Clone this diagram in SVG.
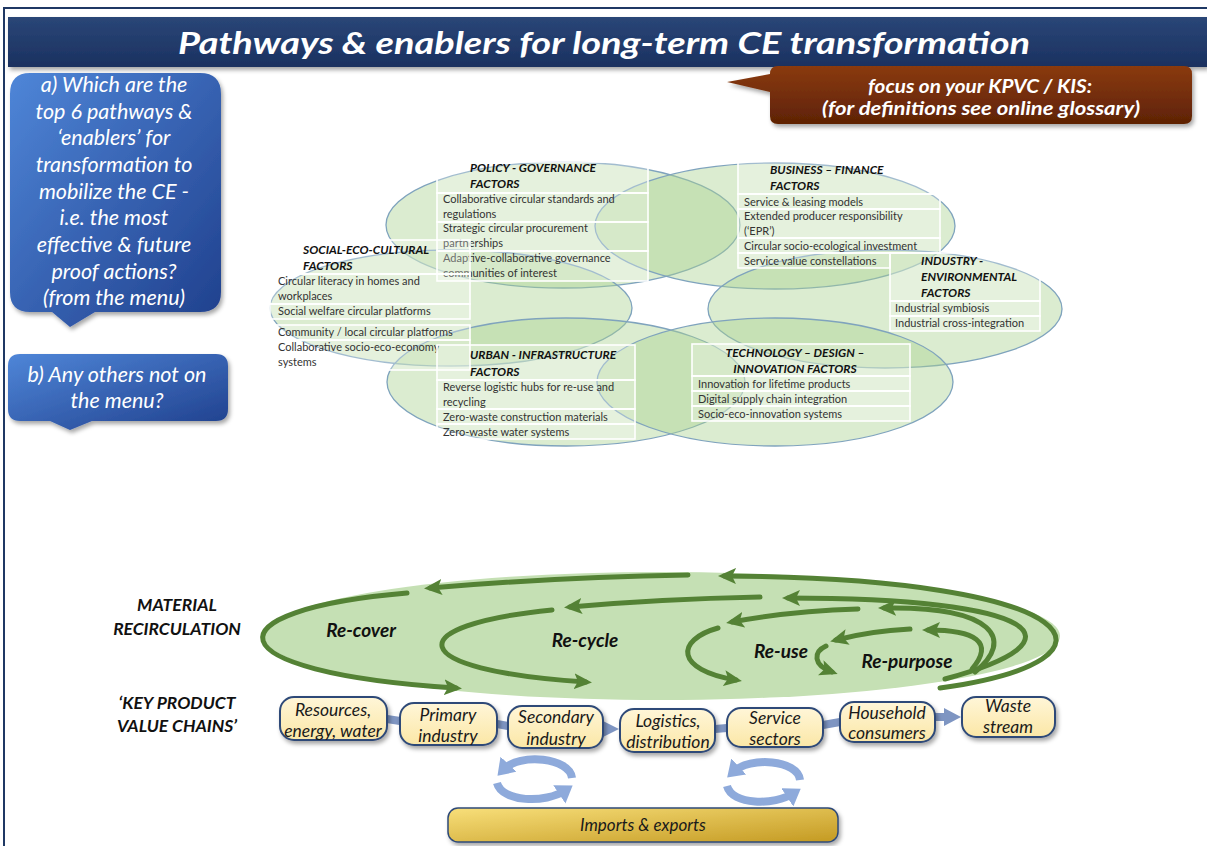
<svg xmlns="http://www.w3.org/2000/svg" width="1207" height="846" viewBox="0 0 1207 846">
<defs>
  <linearGradient id="gTitle" x1="0" y1="0" x2="0" y2="1">
    <stop offset="0" stop-color="#2a4677"/>
    <stop offset="1" stop-color="#1b3160"/>
  </linearGradient>
  <linearGradient id="gBrown" x1="0" y1="0" x2="0" y2="1">
    <stop offset="0" stop-color="#8a3a10"/>
    <stop offset="1" stop-color="#5e2205"/>
  </linearGradient>
  <linearGradient id="gBlue" x1="0" y1="0" x2="1" y2="1">
    <stop offset="0" stop-color="#4f86d8"/>
    <stop offset="1" stop-color="#1f3f8c"/>
  </linearGradient>
  <linearGradient id="gBox" x1="0" y1="0" x2="0" y2="1">
    <stop offset="0" stop-color="#fff6d8"/>
    <stop offset="1" stop-color="#fbe7a6"/>
  </linearGradient>
  <linearGradient id="gGold" x1="0" y1="0" x2="1" y2="1">
    <stop offset="0" stop-color="#f8df7a"/>
    <stop offset="1" stop-color="#c49a22"/>
  </linearGradient>
  <filter id="sh" x="-10%" y="-10%" width="120%" height="130%">
    <feDropShadow dx="2" dy="3" stdDeviation="2" flood-color="#000" flood-opacity="0.35"/>
  </filter>
  <marker id="ag" markerUnits="userSpaceOnUse" markerWidth="20" markerHeight="16" refX="12" refY="8" orient="auto">
    <path d="M0,0 L18,8 L0,16 L4,8 z" fill="#548235"/>
  </marker>
  <marker id="ab" markerUnits="userSpaceOnUse" markerWidth="22" markerHeight="22" refX="8" refY="11" orient="auto">
    <path d="M0,0 L16,11 L0,22 z" fill="#8eaadb"/>
  </marker>
  <style>
    .ell{fill:#a9d18e;fill-opacity:0.42;stroke:#7fa3bd;stroke-width:1.3}
    .pan{fill:#ffffff;fill-opacity:0.28;stroke:#ffffff;stroke-width:1.6}
    .it{font-family:Lato,"Liberation Sans",sans-serif;font-size:11px;fill:#333333}
    .hd{font-family:Lato,"Liberation Sans",sans-serif;font-size:12px;font-weight:bold;font-style:italic;fill:#111}
    .co{font-family:Lato,"Liberation Sans",sans-serif;font-size:21.5px;font-style:italic;fill:#fff;text-anchor:middle}
    .lab{font-family:Lato,"Liberation Sans",sans-serif;font-size:17.5px;font-weight:bold;font-style:italic;fill:#111;text-anchor:middle}
    .loop{font-family:Lato,"Liberation Sans",sans-serif;font-size:19px;font-weight:bold;font-style:italic;fill:#111;text-anchor:middle}
    .box{fill:url(#gBox);stroke:#2f4a78;stroke-width:2}
    .bt{font-family:Lato,"Liberation Sans",sans-serif;font-size:17.5px;font-style:italic;fill:#1a1a1a;text-anchor:middle}
    .ga{fill:none;stroke:#548235;stroke-width:5;stroke-linecap:round;marker-end:url(#ag)}
    .bl{fill:none;stroke:#8eaadb;stroke-width:8;marker-end:url(#ab)}
    .cn{stroke:#7e95c2;stroke-width:8;fill:none}
  </style>
</defs>
<rect width="1207" height="846" fill="#ffffff"/>
<!-- frame -->
<path d="M4,846 L4,8 L1207,8" fill="none" stroke="#1f3864" stroke-width="2"/>

<!-- title -->
<g id="title">
  <rect x="8" y="17" width="1199" height="50" fill="url(#gTitle)" filter="url(#sh)"/>
  <text x="178" y="54" textLength="852" lengthAdjust="spacingAndGlyphs" font-family="Lato,'Liberation Sans',sans-serif" font-size="30" font-weight="bold" font-style="italic" fill="#ffffff">Pathways &amp; enablers for long-term CE transformation</text>
</g>

<!-- brown callout -->
<g id="focus">
  <path d="M778,66 L1184,66 Q1192,66 1192,74 L1192,116 Q1192,124 1184,124 L778,124 Q770,124 770,116 L770,92 L727,82 L770,74 Q770,66 778,66 z" fill="url(#gBrown)" filter="url(#sh)"/>
  <text x="980" y="93" textLength="224" lengthAdjust="spacingAndGlyphs" font-family="Lato,'Liberation Sans',sans-serif" font-size="18" font-weight="bold" font-style="italic" fill="#fff" text-anchor="middle">focus on your KPVC / KIS:</text>
  <text x="981" y="115" textLength="318" lengthAdjust="spacingAndGlyphs" font-family="Lato,'Liberation Sans',sans-serif" font-size="18" font-weight="bold" font-style="italic" fill="#fff" text-anchor="middle">(for definitions see online glossary)</text>
</g>

<!-- blue callout a -->
<g id="question-a">
  <path d="M30,73 L200,73 Q221,73 221,94 L221,292 Q221,312 200,312 L95,312 L70,327 L52,312 L30,312 Q10,312 10,292 L10,94 Q10,73 30,73 z" fill="url(#gBlue)" filter="url(#sh)"/>
  <text class="co" x="114" y="92">a) Which are the</text>
  <text class="co" x="114" y="119">top 6 pathways &amp;</text>
  <text class="co" x="114" y="145">‘enablers’ for</text>
  <text class="co" x="114" y="172">transformation to</text>
  <text class="co" x="114" y="199">mobilize the CE -</text>
  <text class="co" x="114" y="225">i.e. the most</text>
  <text class="co" x="114" y="252">effective &amp; future</text>
  <text class="co" x="114" y="279">proof actions?</text>
  <text class="co" x="114" y="305">(from the menu)</text>
</g>

<!-- blue callout b -->
<g id="question-b">
  <path d="M20,354 L216,354 Q228,354 228,366 L228,409 Q228,421 216,421 L92,421 L70,430 L50,421 L20,421 Q8,421 8,409 L8,366 Q8,354 20,354 z" fill="url(#gBlue)" filter="url(#sh)"/>
  <text class="co" x="117" y="382">b) Any others not on</text>
  <text class="co" x="117" y="408">the menu?</text>
</g>

<!-- ellipses -->
<g id="ellipses">
  <ellipse class="ell" cx="563" cy="225" rx="177" ry="63"/>
  <ellipse class="ell" cx="775" cy="226" rx="180" ry="63"/>
  <ellipse class="ell" cx="451" cy="308" rx="181" ry="58"/>
  <ellipse class="ell" cx="885" cy="309" rx="177" ry="59"/>
  <ellipse class="ell" cx="566" cy="382" rx="179" ry="64"/>
  <ellipse class="ell" cx="775" cy="382" rx="178" ry="64"/>
</g>

<!-- policy -->
<g id="policy">
  <rect class="pan" x="437" y="162" width="211" height="31"/>
  <rect class="pan" x="437" y="193" width="211" height="29"/>
  <rect class="pan" x="437" y="222" width="211" height="29"/>
  <rect class="pan" x="437" y="251" width="211" height="30"/>
  <text class="hd" x="470" y="172">POLICY - GOVERNANCE</text>
  <text class="hd" x="470" y="188">FACTORS</text>
  <text class="it" x="443" y="203">Collaborative circular standards and</text>
  <text class="it" x="443" y="218">regulations</text>
  <text class="it" x="443" y="232">Strategic circular procurement</text>
  <text class="it" x="443" y="247">partnerships</text>
  <text class="it" x="443" y="262">Adaptive-collaborative governance</text>
  <text class="it" x="443" y="277">communities of interest</text>
</g>

<!-- business -->
<g id="business">
  <rect class="pan" x="738" y="160" width="202" height="34"/>
  <rect class="pan" x="738" y="194" width="202" height="15"/>
  <rect class="pan" x="738" y="209" width="202" height="29"/>
  <rect class="pan" x="738" y="238" width="202" height="15"/>
  <rect class="pan" x="738" y="253" width="152" height="15"/>
  <text class="hd" x="770" y="174">BUSINESS – FINANCE</text>
  <text class="hd" x="770" y="190">FACTORS</text>
  <text class="it" x="744" y="206">Service &amp; leasing models</text>
  <text class="it" x="744" y="220">Extended producer responsibility</text>
  <text class="it" x="744" y="235">(‘EPR’)</text>
  <text class="it" x="744" y="250">Circular socio-ecological investment</text>
  <text class="it" x="744" y="265">Service value constellations</text>
</g>

<!-- industry -->
<g id="industry">
  <rect class="pan" x="890" y="253" width="150" height="48"/>
  <rect class="pan" x="890" y="301" width="150" height="15"/>
  <rect class="pan" x="890" y="316" width="150" height="15"/>
  <text class="hd" x="921" y="265">INDUSTRY -</text>
  <text class="hd" x="921" y="281">ENVIRONMENTAL</text>
  <text class="hd" x="921" y="297">FACTORS</text>
  <text class="it" x="895" y="312">Industrial symbiosis</text>
  <text class="it" x="895" y="327">Industrial cross-integration</text>
</g>

<!-- social -->
<g id="social">
  <rect class="pan" x="270" y="240" width="200" height="34"/>
  <rect class="pan" x="270" y="274" width="200" height="30"/>
  <rect class="pan" x="270" y="304" width="200" height="15"/>
  <rect class="pan" x="270" y="325" width="200" height="15"/>
  <rect class="pan" x="270" y="340" width="200" height="30"/>
  <text class="hd" x="303" y="254">SOCIAL-ECO-CULTURAL</text>
  <text class="hd" x="303" y="270">FACTORS</text>
  <text class="it" x="278" y="285">Circular literacy in homes and</text>
  <text class="it" x="278" y="300">workplaces</text>
  <text class="it" x="278" y="315">Social welfare circular platforms</text>
  <text class="it" x="278" y="336">Community / local circular platforms</text>
  <text class="it" x="278" y="351">Collaborative socio-eco-economy</text>
  <text class="it" x="278" y="366">systems</text>
</g>

<!-- urban -->
<g id="urban">
  <rect class="pan" x="437" y="345" width="198" height="35"/>
  <rect class="pan" x="437" y="380" width="198" height="29"/>
  <rect class="pan" x="437" y="409" width="198" height="15"/>
  <rect class="pan" x="437" y="424" width="198" height="15"/>
  <text class="hd" x="470" y="359">URBAN - INFRASTRUCTURE</text>
  <text class="hd" x="470" y="376">FACTORS</text>
  <text class="it" x="443" y="391">Reverse logistic hubs for re-use and</text>
  <text class="it" x="443" y="406">recycling</text>
  <text class="it" x="443" y="421">Zero-waste construction materials</text>
  <text class="it" x="443" y="436">Zero-waste water systems</text>
</g>

<!-- technology -->
<g id="technology">
  <rect class="pan" x="692" y="344" width="218" height="32"/>
  <rect class="pan" x="692" y="376" width="218" height="15"/>
  <rect class="pan" x="692" y="391" width="218" height="15"/>
  <rect class="pan" x="692" y="406" width="218" height="15"/>
  <text class="hd" x="795" y="357" text-anchor="middle">TECHNOLOGY – DESIGN –</text>
  <text class="hd" x="795" y="373" text-anchor="middle">INNOVATION FACTORS</text>
  <text class="it" x="698" y="388">Innovation for lifetime products</text>
  <text class="it" x="698" y="403">Digital supply chain integration</text>
  <text class="it" x="698" y="418">Socio-eco-innovation systems</text>
</g>

<!-- left labels -->
<g id="labels">
  <text class="lab" x="177" y="611">MATERIAL</text>
  <text class="lab" x="177" y="635">RECIRCULATION</text>
  <text class="lab" x="177" y="709">‘KEY PRODUCT</text>
  <text class="lab" x="177" y="732">VALUE CHAINS’</text>
</g>

<!-- recirculation -->
<g id="recirculation">
  <ellipse cx="662" cy="636" rx="398" ry="64" fill="#c5e0b4"/>
  <text class="loop" x="361" y="637">Re-cover</text>
  <text class="loop" x="585" y="647">Re-cycle</text>
  <text class="loop" x="781" y="658">Re-use</text>
  <text class="loop" x="907" y="668">Re-purpose</text>
</g>

<!-- connectors -->
<g id="connectors">
  <!-- recover -->
  <path class="ga" d="M940,688 C1140,660 1090,578 724,576"/>
  <path class="ga" d="M688,575 Q560,577 430,588"/>
  <path class="ga" d="M407,593 C207,610 207,672 456,688"/>
  <!-- recycle -->
  <path class="ga" d="M945,679 C1090,640 1040,598 788,598"/>
  <path class="ga" d="M760,597 Q660,599 570,607"/>
  <path class="ga" d="M552,610 C400,625 400,670 586,682"/>
  <!-- reuse -->
  <path class="ga" d="M975,672 C1015,640 995,606 884,608"/>
  <path class="ga" d="M858,609 Q790,611 732,622"/>
  <path class="ga" d="M718,628 C675,640 675,670 736,680"/>
  <!-- repurpose -->
  <path class="ga" d="M972,669 C995,642 975,630 928,630"/>
  <path class="ga" d="M910,629 Q870,631 836,640"/>
  <path class="ga" d="M826,646 C813,652 813,665 832,672"/>
  <!-- chain links -->
  <line class="cn" x1="387" y1="719" x2="400" y2="721"/>
  <line class="cn" x1="497" y1="724" x2="508" y2="726"/>
  <path d="M603,721 L619,729 L603,737 z" fill="#7e95c2"/>
  <line class="cn" x1="715" y1="729" x2="727" y2="728"/>
  <line class="cn" x1="823" y1="725" x2="840" y2="722"/>
  <line class="cn" x1="935" y1="717" x2="946" y2="717"/>
  <path d="M944,708 L961,717 L944,726 z" fill="#7e95c2"/>
  <!-- exchange cycles -->
  <path class="bl" d="M572,778 C570,758 520,752 503,770"/>
  <path class="bl" d="M497,783 C502,802 545,804 566,790"/>
  <path class="bl" d="M800,780 C798,760 750,756 733,772"/>
  <path class="bl" d="M727,786 C732,805 774,806 794,793"/>
</g>

<!-- chain boxes -->
<g id="resources"><rect class="box" x="280" y="697" width="107" height="43" rx="14" filter="url(#sh)"/><text class="bt" x="333" y="716">Resources,</text><text class="bt" x="333" y="737">energy, water</text></g>
<g id="primary"><rect class="box" x="400" y="703" width="97" height="42" rx="14" filter="url(#sh)"/><text class="bt" x="448" y="721">Primary</text><text class="bt" x="448" y="742">industry</text></g>
<g id="secondary"><rect class="box" x="508" y="706" width="95" height="42" rx="14" filter="url(#sh)"/><text class="bt" x="556" y="723">Secondary</text><text class="bt" x="556" y="745">industry</text></g>
<g id="logistics"><rect class="box" x="620" y="709" width="95" height="43" rx="14" filter="url(#sh)"/><text class="bt" x="668" y="727">Logistics,</text><text class="bt" x="668" y="748">distribution</text></g>
<g id="service"><rect class="box" x="727" y="708" width="96" height="39" rx="14" filter="url(#sh)"/><text class="bt" x="775" y="724">Service</text><text class="bt" x="775" y="745">sectors</text></g>
<g id="household"><rect class="box" x="840" y="702" width="95" height="40" rx="14" filter="url(#sh)"/><text class="bt" x="887" y="719">Household</text><text class="bt" x="887" y="739">consumers</text></g>
<g id="waste"><rect class="box" x="962" y="697" width="93" height="40" rx="14" filter="url(#sh)"/><text class="bt" x="1008" y="712">Waste</text><text class="bt" x="1008" y="733">stream</text></g>
<g id="imports"><rect x="448" y="808" width="390" height="34" rx="10" fill="url(#gGold)" stroke="#2f4a78" stroke-width="1.5" filter="url(#sh)"/><text class="bt" x="643" y="831" style="font-size:17px">Imports &amp; exports</text></g>
</svg>
